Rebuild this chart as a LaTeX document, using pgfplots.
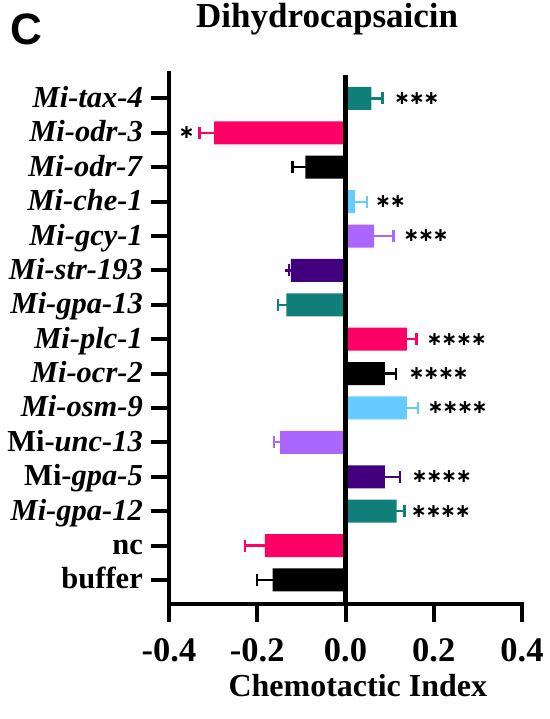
\documentclass[border=0pt]{standalone}
\usepackage{fontspec}
\setmainfont{Liberation Serif}
\newfontfamily\sansb{Liberation Sans}
\newfontfamily\starfont{DejaVu Sans}
\usepackage{pgfplots}
\pgfplotsset{compat=1.18}
\definecolor{cblack}{HTML}{000000}
\definecolor{cpink}{HTML}{FF0066}
\definecolor{cteal}{HTML}{107F7A}
\definecolor{cpurple}{HTML}{42007F}
\definecolor{clav}{HTML}{AA66FF}
\definecolor{cblue}{HTML}{66CCFF}
\newcommand\sk{\makebox[14.7bp]{\starfont\bfseries ∗}}
\begin{document}
\begin{tikzpicture}
\path[use as bounding box] (0,0) rectangle (550bp,719bp);
\node[anchor=base west, inner sep=0, font=\sansb\bfseries\fontsize{44bp}{48bp}\selectfont] at (10.5bp,674bp) {C};
\begin{axis}[
  at={(169bp,115bp)}, anchor=south west,
  scale only axis, width=353bp, height=531bp,
  xmin=-0.4, xmax=0.4, ymin=-0.7, ymax=14.74,
  xbar, bar width=23bp, bar shift=0pt,
  axis x line*=bottom, axis y line*=left,
  x axis line style={-}, y axis line style={-},
  axis line style={line width=4bp, line cap=rect},
  tick style={line width=4bp, black},
  tick align=outside, major tick length=18bp,
  xtick={-0.4,-0.2,0,0.2,0.4},
  ytick={0,...,14},
  yticklabels={buffer, nc, \textit{Mi-gpa-12}, Mi-\textit{gpa-5}, Mi-\textit{unc-13}, \textit{Mi-osm-9}, \textit{Mi-ocr-2}, \textit{Mi-plc-1}, \textit{Mi-gpa-13}, \textit{Mi-str-193}, \textit{Mi-gcy-1}, \textit{Mi-che-1}, \textit{Mi-odr-7}, \textit{Mi-odr-3}, \textit{Mi-tax-4}},
  xticklabel style={font=\bfseries\fontsize{34.5bp}{38bp}\selectfont, anchor=base, inner sep=0pt, yshift=-40bp},
  yticklabel style={font=\bfseries\fontsize{30.5bp}{34bp}\selectfont, anchor=base east, inner sep=0pt, xshift=-8bp, yshift=-9bp},
  /pgf/number format/assume math mode=true,
  /pgf/number format/.cd, fixed, fixed zerofill, precision=1, /pgfplots/.cd,
  xlabel={Chemotactic Index},
  xlabel style={font=\bfseries\fontsize{32bp}{36bp}\selectfont, at={(axis description cs:0.535,0)}, anchor=base, inner sep=0pt, yshift=-92.7bp},
  title={Dihydrocapsaicin},
  title style={font=\bfseries\fontsize{35bp}{40bp}\selectfont, at={(axis description cs:0.448,1)}, anchor=base, inner sep=0pt, yshift=39.7bp},
  error bars/x dir=both, error bars/x explicit, error bars/error mark=|,
  clip=false,
]
% black
\addplot[draw=none, fill=cblack, error bars/.cd, error bar style={draw=cblack, line width=2.2bp}, error mark options={draw=cblack, line width=2.2bp, mark size=6bp}]
 coordinates {(-0.165,0) += (0,0) -= (0.036,0)  (0.089,6) += (0.025,0) -= (0,0)  (-0.091,12) += (0,0) -= (0.029,0)};
% pink
\addplot[draw=none, fill=cpink, error bars/.cd, error bar style={draw=cpink, line width=2.2bp}, error mark options={draw=cpink, line width=2.2bp, mark size=6bp}]
 coordinates {(-0.183,1) += (0,0) -= (0.044,0)  (0.139,7) += (0.022,0) -= (0,0)  (-0.298,13) += (0,0) -= (0.033,0)};
% teal
\addplot[draw=none, fill=cteal, error bars/.cd, error bar style={draw=cteal, line width=2.2bp}, error mark options={draw=cteal, line width=2.2bp, mark size=6bp}]
 coordinates {(0.1156,2) += (0.018,0) -= (0,0)  (-0.134,8) += (0,0) -= (0.019,0)  (0.0589,14) += (0.025,0) -= (0,0)};
% purple
\addplot[draw=none, fill=cpurple, error bars/.cd, error bar style={draw=cpurple, line width=2.2bp}, error mark options={draw=cpurple, line width=2.2bp, mark size=6bp}]
 coordinates {(0.089,3) += (0.034,0) -= (0,0)  (-0.1236,9) += (0,0) -= (0.005,0)};
% lavender
\addplot[draw=none, fill=clav, error bars/.cd, error bar style={draw=clav, line width=2.2bp}, error mark options={draw=clav, line width=2.2bp, mark size=6bp}]
 coordinates {(-0.148,4) += (0,0) -= (0.014,0)  (0.0648,10) += (0.044,0) -= (0,0)};
% light blue
\addplot[draw=none, fill=cblue, error bars/.cd, error bar style={draw=cblue, line width=2.2bp}, error mark options={draw=cblue, line width=2.2bp, mark size=6bp}]
 coordinates {(0.139,5) += (0.026,0) -= (0,0)  (0.0217,11) += (0.027,0) -= (0,0)};
\draw[line width=4.5bp] (axis cs:0,-0.7) -- (axis cs:0,14.68);
% significance
\begin{scope}[every node/.style={inner sep=0pt, font=\fontsize{19bp}{22bp}\selectfont}]
\node[anchor=west] at (axis cs:0.111,14) {\sk\sk\sk};
\node[anchor=center] at (axis cs:-0.360,13) {\sk};
\node[anchor=west] at (axis cs:0.068,11) {\sk\sk};
\node[anchor=west] at (axis cs:0.132,10) {\sk\sk\sk};
\node[anchor=west] at (axis cs:0.185,7) {\sk\sk\sk\sk};
\node[anchor=west] at (axis cs:0.144,6) {\sk\sk\sk\sk};
\node[anchor=west] at (axis cs:0.187,5) {\sk\sk\sk\sk};
\node[anchor=west] at (axis cs:0.151,3) {\sk\sk\sk\sk};
\node[anchor=west] at (axis cs:0.149,2) {\sk\sk\sk\sk};
\end{scope}
\end{axis}
\end{tikzpicture}
\end{document}
